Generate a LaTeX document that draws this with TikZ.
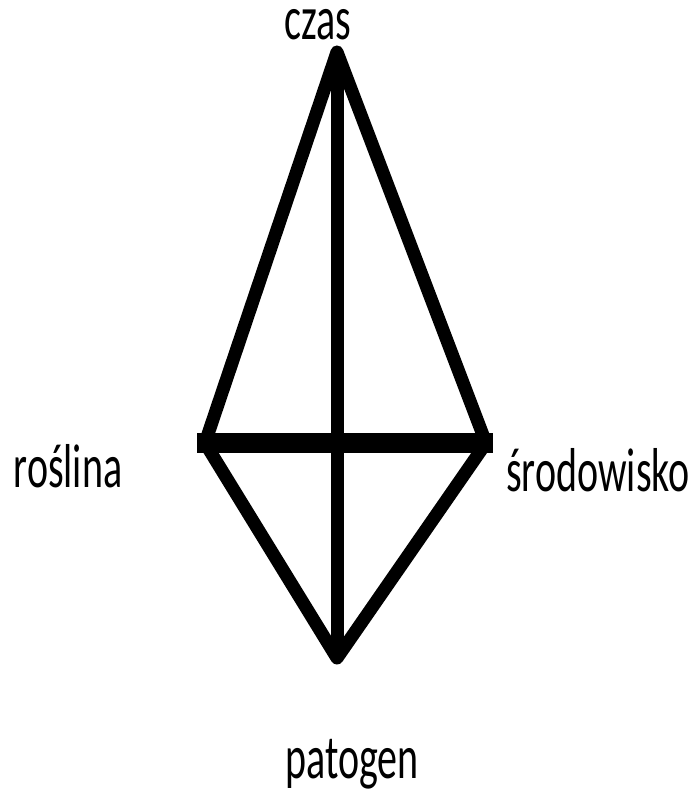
\documentclass[tikz,border=0pt]{standalone}
\usepackage{fontspec}
\setmainfont{Carlito}
\begin{document}
\begin{tikzpicture}[x=1pt,y=-1pt,
  lbl/.style={anchor=base,inner sep=0pt,yscale=1.55,font=\fontsize{40}{48}\selectfont},
  edge/.style={line width=13pt,line join=round,line cap=round},
  thick edge/.style={line width=20pt,line cap=butt}]
\useasboundingbox[fill=white] (0,0) rectangle (694,791);
\coordinate (T) at (337,52);
\coordinate (L) at (205,443);
\coordinate (R) at (486,443);
\coordinate (B) at (337,658);
\draw[edge] (T) -- (L) -- (B) -- (R) -- cycle;
\draw[line width=13pt,line cap=butt] ([yshift=-9]T) -- ([yshift=9]B);
\draw[thick edge] ([xshift=-8]L) -- ([xshift=7]R);
\node[lbl] (czas) at (318,40) {czas};
\node[lbl] (roslina) at (68,487) {roślina};
\node[lbl] (srodowisko) at (598,491) {środowisko};
\node[lbl] (patogen) at (352,778) {patogen};
\end{tikzpicture}
\end{document}
